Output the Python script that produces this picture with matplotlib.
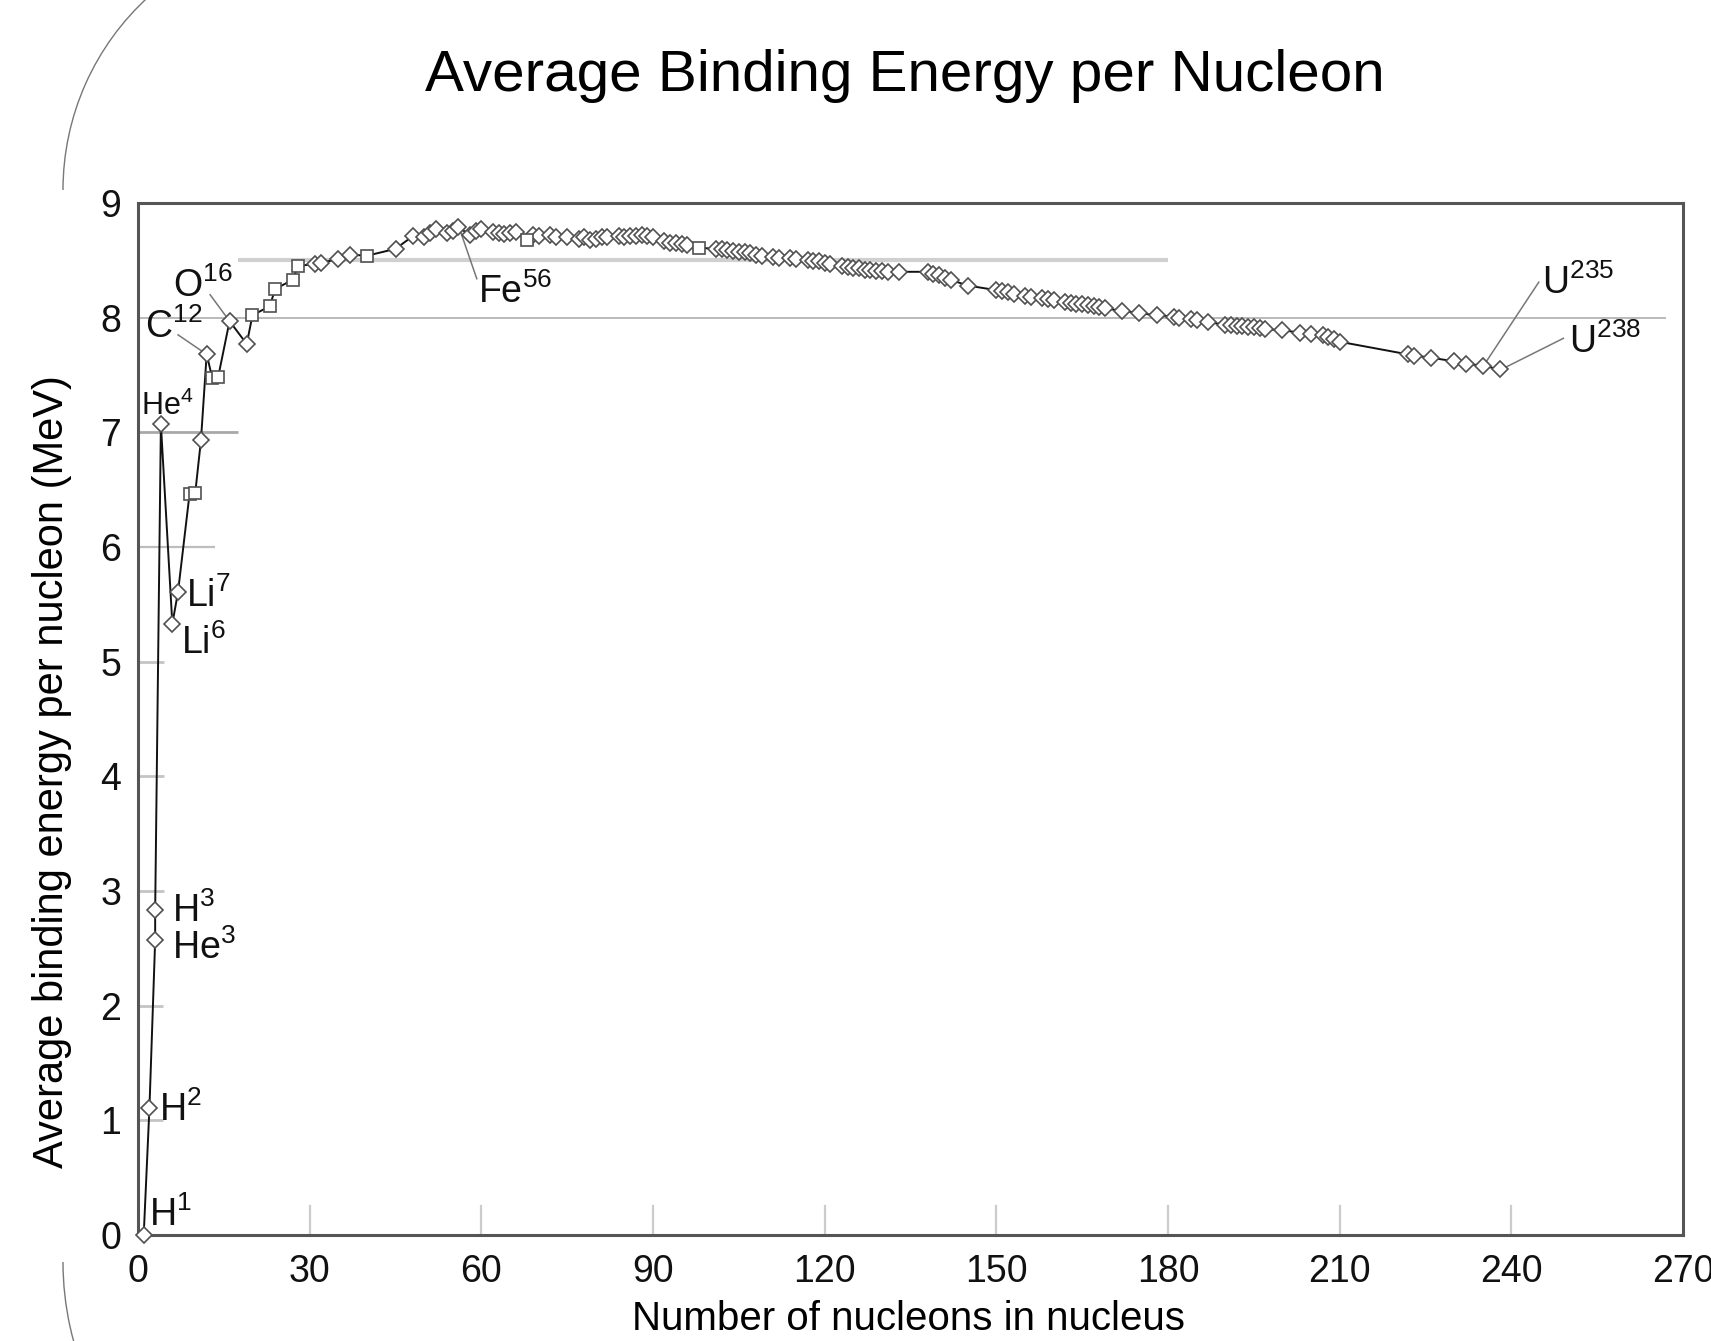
import numpy as np
import matplotlib
matplotlib.use("Agg")
import matplotlib.pyplot as plt
from matplotlib.patches import Arc

# nuclides (mass number, MeV per nucleon, marker kind)
mass_number = [1, 2, 3, 3, 4, 6, 7, 9, 10, 11, 12, 13, 14, 16, 19, 20, 23, 24, 27, 28,
               31, 32, 35, 37, 40, 45, 48, 50, 51, 52, 54, 55, 56, 58, 59, 60, 62, 63,
               64, 65, 66, 68, 69, 70, 72, 73, 75, 77, 78, 79, 80, 81, 82, 84, 85, 86,
               87, 88, 89, 90, 92, 93, 94, 95, 96, 98, 101, 102, 103, 104, 105, 106,
               107, 108, 109, 111, 112, 114, 115, 117, 118, 119, 120, 121, 123, 124,
               125, 126, 127, 128, 129, 130, 131, 133, 138, 139, 140, 141, 142, 145,
               150, 151, 152, 153, 155, 156, 158, 159, 160, 162, 163, 164, 165, 166,
               167, 168, 169, 172, 175, 178, 181, 182, 184, 185, 187, 190, 191, 192,
               193, 194, 195, 196, 197, 200, 203, 205, 207, 208, 209, 210, 222, 223,
               226, 230, 232, 235, 238]
binding_energy = [0.00, 1.11, 2.57, 2.83, 7.07, 5.33, 5.61, 6.46, 6.47, 6.93, 7.68,
                  7.47, 7.48, 7.97, 7.77, 8.02, 8.10, 8.25, 8.33, 8.45, 8.47, 8.48,
                  8.51, 8.55, 8.54, 8.60, 8.71, 8.70, 8.74, 8.77, 8.74, 8.76, 8.79,
                  8.72, 8.76, 8.77, 8.75, 8.74, 8.73, 8.74, 8.75, 8.68, 8.72, 8.71,
                  8.72, 8.70, 8.70, 8.69, 8.70, 8.68, 8.69, 8.70, 8.70, 8.71, 8.70,
                  8.71, 8.71, 8.72, 8.71, 8.70, 8.67, 8.65, 8.65, 8.64, 8.63, 8.61,
                  8.60, 8.60, 8.59, 8.58, 8.57, 8.57, 8.56, 8.55, 8.54, 8.53, 8.52,
                  8.52, 8.51, 8.50, 8.49, 8.49, 8.48, 8.47, 8.45, 8.44, 8.43, 8.43,
                  8.42, 8.42, 8.41, 8.41, 8.40, 8.40, 8.40, 8.38, 8.37, 8.35, 8.33,
                  8.28, 8.24, 8.23, 8.22, 8.21, 8.19, 8.18, 8.17, 8.16, 8.15, 8.14,
                  8.13, 8.12, 8.12, 8.11, 8.10, 8.09, 8.08, 8.06, 8.04, 8.02, 8.01,
                  8.00, 7.99, 7.98, 7.96, 7.94, 7.94, 7.93, 7.93, 7.92, 7.92, 7.91,
                  7.90, 7.89, 7.87, 7.86, 7.85, 7.83, 7.81, 7.79, 7.68, 7.67, 7.65,
                  7.62, 7.60, 7.58, 7.55]
square_A = [9, 10, 13, 14, 20, 23, 24, 27, 28, 40, 68, 98]

# reference lines of the original chart: (level, from A, to A)
hline_level = [8.0, 8.5, 7.0, 6.0, 5.0, 4.0, 3.0, 2.0, 1.0]
hline_from = [0, 17.5, 0, 0, 0, 0, 0, 0, 0]
hline_to = [267, 180, 17.5, 13.5, 4.6, 4.6, 4.6, 4.4, 4.4]
x_ticks = list(range(0, 271, 30))
y_ticks = list(range(0, 10))

plt.rcParams['font.family'] = ['Liberation Sans', 'DejaVu Sans']
plt.rcParams['mathtext.fontset'] = 'custom'
plt.rcParams['mathtext.rm'] = 'Liberation Sans'
plt.rcParams['mathtext.it'] = 'Liberation Sans:italic'

fig = plt.figure(figsize=(17.11, 13.41), dpi=100)

# slide decoration: pieces of a big rounded outline on the left
bg = fig.add_axes([0, 0, 1, 1], zorder=-1)
bg.set_xlim(0, 1711)
bg.set_ylim(1341, 0)
bg.axis('off')
bg.add_patch(Arc((324, 190), 522, 522, theta1=180, theta2=228, color='#777777', lw=1))
bg.add_patch(Arc((363, 1262), 600, 600, theta1=155, theta2=180, color='#777777', lw=1))

ax = fig.add_axes([138 / 1711, 1 - 1235 / 1341, 1545 / 1711, 1032 / 1341])
ax.set_xlim(0, 270)
ax.set_ylim(0, 9)

A = np.array(mass_number, dtype=float)
E = np.array(binding_energy)
is_sq = np.isin(A, square_A)

# reference lines
widths = [1.3, 3, 2, 1.6, 2, 2, 2, 2, 2]
greys = ['#b4b4b4', '#d0d0d0', '#a8a8a8', '#bdbdbd', '#c4c4c4', '#c4c4c4', '#c4c4c4', '#c4c4c4', '#c4c4c4']
for lvl, x0, x1, w, c in zip(hline_level, hline_from, hline_to, widths, greys):
    ax.plot([x0, x1], [lvl, lvl], color=c, lw=w, zorder=1, solid_capstyle='butt')
for xt in x_ticks[1:-1]:
    ax.plot([xt, xt], [0, 0.25], color='#cccccc', lw=1.6, zorder=1)

ax.plot(A, E, color='#111111', lw=1.4, zorder=2, clip_on=False)
ax.plot(A[~is_sq], E[~is_sq], ls='none', marker='D', ms=7.8, mfc='white',
        mec='#505050', mew=1.2, zorder=3, clip_on=False)
ax.plot(A[is_sq], E[is_sq], ls='none', marker='s', ms=9, mfc='white',
        mec='#505050', mew=1.2, zorder=3)

# nuclide labels
fs = 27
labels = [
    (r'H$^{1}$', 2.0, 0.08, fs), (r'H$^{2}$', 3.7, 0.99, fs),
    (r'H$^{3}$', 6.0, 2.73, fs), (r'He$^{3}$', 6.0, 2.41, fs),
    (r'He$^{4}$', 0.6, 7.15, 22), (r'Li$^{7}$', 8.4, 5.48, fs),
    (r'Li$^{6}$', 7.6, 5.07, fs), (r'C$^{12}$', 1.25, 7.82, fs),
    (r'O$^{16}$', 6.2, 8.18, fs), (r'Fe$^{56}$', 59.5, 8.13, fs),
    (r'U$^{235}$', 245.4, 8.21, fs), (r'U$^{238}$', 250.1, 7.69, fs),
]
for txt, x, y, s in labels:
    ax.text(x, y, txt, fontsize=s, ha='left', va='baseline', color='#111111', zorder=4)

leaders = [((7.0, 7.85), (12, 7.68)), ((12.6, 8.2), (16, 7.97)),
           ((59.2, 8.34), (56.3, 8.76)), ((244.8, 8.31), (235.4, 7.60)),
           ((249.1, 7.82), (239.1, 7.57))]
for (x0, y0), (x1, y1) in leaders:
    ax.plot([x0, x1], [y0, y1], color='#777777', lw=1.1, zorder=2.5)

for sp in ax.spines.values():
    sp.set_color('#555555')
    sp.set_linewidth(2.2)
ax.set_xticks(x_ticks)
ax.set_yticks(y_ticks)
ax.tick_params(length=0, labelsize=27, labelcolor='#111111')
ax.tick_params(axis='x', pad=14)
ax.tick_params(axis='y', pad=12)

fig.text(0.529, 0.943, 'Average Binding Energy per Nucleon', fontsize=42,
         ha='center', va='center')
fig.text(0.0305, 0.425, 'Average binding energy per nucleon (MeV)', fontsize=30,
         rotation=90, ha='center', va='center')
fig.text(0.531, 0.002, 'Number of nucleons in nucleus', fontsize=29,
         ha='center', va='bottom')

fig.savefig('out.png', dpi=100)
